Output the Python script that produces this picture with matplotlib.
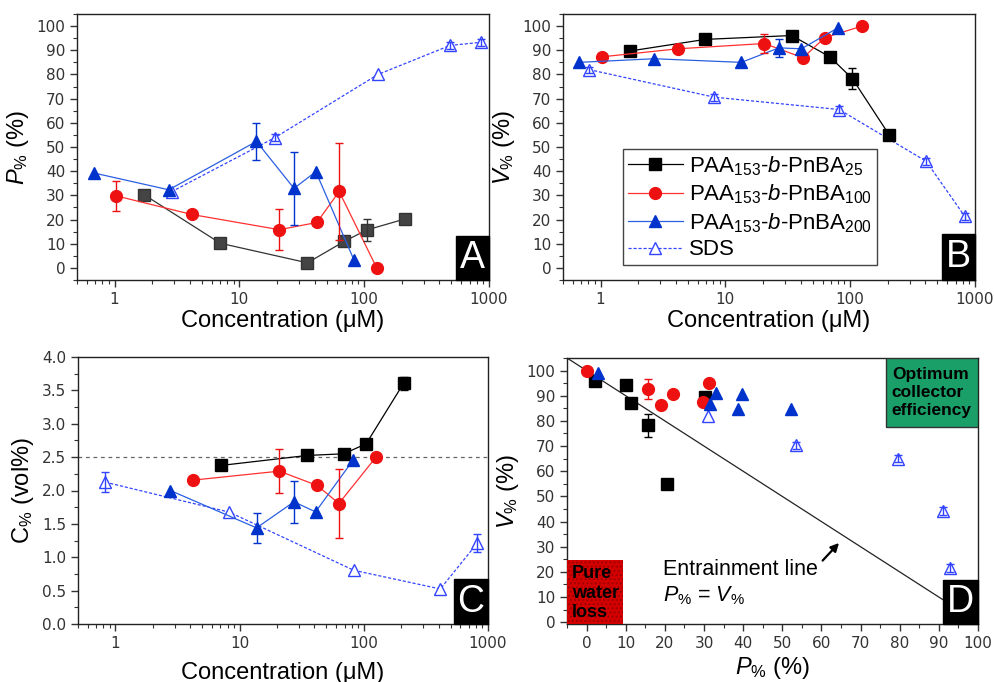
import matplotlib
matplotlib.use('Agg')
import matplotlib.pyplot as plt
from matplotlib.ticker import MultipleLocator, FixedLocator, NullFormatter, LogLocator, FormatStrFormatter
from matplotlib.patches import Rectangle
from matplotlib.lines import Line2D

plt.rcParams['font.family'] = ['Liberation Sans', 'DejaVu Sans']
plt.rcParams['mathtext.fontset'] = 'custom'
plt.rcParams['mathtext.rm'] = 'Liberation Sans'
plt.rcParams['mathtext.it'] = 'Liberation Sans:italic'
plt.rcParams['mathtext.bf'] = 'Liberation Sans:bold'

# ---------------- Data ----------------
# Panel A: P% vs concentration (uM)
a25_x = [1.72, 7.03, 35.1, 69.4, 105, 211]
a25_y = [30.3, 10.2, 2.1, 11.0, 15.7, 20.2]
a25_e = [0, 0, 0, 0, 4.5, 0]
a100_x = [1.03, 4.15, 20.9, 41.8, 63, 126]
a100_y = [29.8, 22.1, 15.8, 18.8, 31.6, 0.0]
a100_e = [6.3, 0, 8.4, 0, 20.0, 0]
a200_x = [0.69, 2.72, 13.7, 27.4, 41, 82.6]
a200_y = [39.2, 32.3, 52.3, 32.9, 39.8, 3.4]
a200_e = [0, 0, 7.7, 15.0, 0, 0]
asds_x = [2.86, 19.3, 129, 488, 867]
asds_y = [31.5, 53.9, 80.0, 92.0, 93.3]
asds_e = [0, 1.5, 0, 1.5, 1.5]

# Panel B: V% vs concentration (uM)
b25_x = [1.72, 6.9, 34, 68.6, 104, 206]
b25_y = [89.7, 94.5, 96.1, 87.3, 78.3, 54.9]
b25_e = [0, 0, 0, 0, 4.5, 0]
b100_x = [1.03, 4.14, 20.5, 41.9, 62.5, 124]
b100_y = [87.3, 90.6, 92.8, 86.9, 95.2, 100.0]
b100_e = [0, 0, 3.8, 0, 0, 0]
b200_x = [0.67, 2.7, 13.4, 26.9, 40.6, 80]
b200_y = [85.0, 86.5, 85.0, 91.0, 90.6, 99.3]
b200_e = [0, 0, 0, 3.6, 0, 0]
bsds_x = [0.81, 8.16, 81.6, 406, 826]
bsds_y = [82.0, 70.6, 65.5, 44.1, 21.4]
bsds_e = [1.2, 1.5, 1.5, 1.5, 1.5]

# Panel C: C% (vol%) vs concentration (uM)
c25_x = [7.06, 35, 69, 104.5, 209]
c25_y = [2.375, 2.525, 2.55, 2.70, 3.605]
c25_e = [0, 0, 0, 0, 0.1]
c100_x = [4.2, 20.9, 42.2, 63, 126]
c100_y = [2.155, 2.29, 2.075, 1.805, 2.505]
c100_e = [0, 0.33, 0, 0.51, 0]
c200_x = [2.77, 13.7, 27.4, 40.9, 82]
c200_y = [2.0, 1.44, 1.83, 1.68, 2.455]
c200_e = [0, 0.23, 0.31, 0, 0]
csds_x = [0.83, 8.28, 83, 413, 823]
csds_y = [2.125, 1.675, 0.805, 0.525, 1.215]
csds_e = [0.15, 0, 0, 0, 0.14]
c_ref_level = 2.5

# Panel D: V% vs P%
d25_x = [2.1, 10.2, 11.3, 15.6, 20.5, 30.3]
d25_y = [95.8, 94.3, 87.2, 78.2, 55.1, 89.4]
d25_e = [0, 0, 0, 4.6, 0, 0]
d100_x = [0.0, 15.8, 18.9, 22.0, 29.8, 31.4]
d100_y = [100.0, 92.7, 86.5, 90.5, 87.5, 95.0]
d100_e = [0, 3.8, 0, 0, 0, 0]
d200_x = [3.0, 31.5, 33.0, 38.6, 39.6, 52.2]
d200_y = [99.0, 86.8, 91.2, 84.6, 90.5, 84.8]
d200_e = [0, 0, 0, 0, 0, 0]
dsds_x = [31.1, 53.5, 79.5, 91.0, 92.9]
dsds_y = [81.8, 70.3, 65.0, 44.2, 21.5]
dsds_e = [0, 1.5, 1.5, 1.5, 1.5]
entrain_x = [-5, 100]
entrain_y = [105, 0]

legend_labels = [r'PAA$_{153}$-$b$-PnBA$_{25}$',
                 r'PAA$_{153}$-$b$-PnBA$_{100}$',
                 r'PAA$_{153}$-$b$-PnBA$_{200}$',
                 'SDS']

# ---------------- Styles ----------------
S25 = dict(marker='s', color='#000000', mfc='#000000', mec='#000000', lw=0.9, ms=8)
S25A = dict(marker='s', color='#333333', mfc='#444444', mec='#333333', lw=0.9, ms=8)
S100 = dict(marker='o', color='#ff3030', mfc='#ee1111', mec='#ee1111', lw=0.9, ms=8.5)
S200 = dict(marker='^', color='#2a5fe0', mfc='#0033cc', mec='#0033cc', lw=0.9, ms=9)
SSDS = dict(marker='^', color='#3344ff', mfc='white', mec='#3344ff', lw=0.9, ms=9,
            ls=(0, (2.5, 1.5)), mew=1.0)

fig = plt.figure(figsize=(9.94, 6.82), dpi=100)
W, H = 994.0, 682.0


def add_ax(l, t, r, b):
    return fig.add_axes([l / W, 1 - b / H, (r - l) / W, (b - t) / H])


def series(ax, x, y, e, st, line=True, ecolor=None, z=3):
    kw = dict(st)
    if not line:
        kw['ls'] = 'none'
    ax.plot(x, y, zorder=z, **kw)
    idx = [i for i, v in enumerate(e) if v > 0]
    if idx:
        ax.errorbar([x[i] for i in idx], [y[i] for i in idx], yerr=[e[i] for i in idx],
                    fmt='none', ecolor=ecolor or st['mec'], elinewidth=1.0,
                    capsize=3, capthick=1.0, zorder=z + 0.5)


def style_ax(ax):
    for s in ax.spines.values():
        s.set_linewidth(1.0)
        s.set_color('#222222')
    ax.tick_params(which='both', direction='out', top=False, right=False,
                   labelsize=11, labelcolor='#333333', color='#333333')
    ax.tick_params(which='major', length=5, width=1)
    ax.tick_params(which='minor', length=3, width=0.8)


def log_x(ax):
    ax.set_xscale('log')
    ax.set_xlim(0.5, 1000)
    ax.xaxis.set_major_locator(FixedLocator([1, 10, 100, 1000]))
    ax.set_xticklabels(['1', '10', '100', '1000'])
    ax.xaxis.set_minor_locator(LogLocator(base=10, subs=range(2, 10)))
    ax.xaxis.set_minor_formatter(NullFormatter())


def fix_tick_font(ax):
    for lab in ax.get_xticklabels() + ax.get_yticklabels():
        lab.set_family('DejaVu Sans')
        lab.set_fontsize(11)


def panel_label(ax, letter, wpx, hpx, axw, axh):
    fw, fh = wpx / axw, hpx / axh
    ax.add_patch(Rectangle((1 - fw, 0), fw, fh, transform=ax.transAxes,
                           facecolor='black', edgecolor='black', zorder=20, clip_on=False))
    ax.text(1 - fw / 2, fh / 2, letter, transform=ax.transAxes, color='white',
            ha='center', va='center', fontsize=27, zorder=21)


# ---------------- Panel A ----------------
axA = add_ax(77, 14, 489, 280)
log_x(axA)
axA.set_ylim(-5, 105)
axA.yaxis.set_major_locator(MultipleLocator(10))
axA.yaxis.set_minor_locator(MultipleLocator(5))
style_ax(axA)
series(axA, asds_x, asds_y, asds_e, SSDS, z=2)
series(axA, a25_x, a25_y, a25_e, S25A)
series(axA, a100_x, a100_y, a100_e, S100)
series(axA, a200_x, a200_y, a200_e, S200)
axA.set_xlabel('Concentration (\u03bcM)', fontsize=17, labelpad=2)
axA.set_ylabel(r'$P_{\%}$ (%)', fontsize=17, labelpad=4)
panel_label(axA, 'A', 33, 44, 412, 266)

# ---------------- Panel B ----------------
axB = add_ax(563, 14, 975, 280)
log_x(axB)
axB.set_ylim(-5, 105)
axB.yaxis.set_major_locator(MultipleLocator(10))
axB.yaxis.set_minor_locator(MultipleLocator(5))
style_ax(axB)
series(axB, bsds_x, bsds_y, bsds_e, SSDS, z=2)
series(axB, b25_x, b25_y, b25_e, S25)
series(axB, b100_x, b100_y, b100_e, S100)
series(axB, b200_x, b200_y, b200_e, S200)
axB.set_xlabel('Concentration (\u03bcM)', fontsize=17, labelpad=2)
axB.set_ylabel(r'$V_{\%}$ (%)', fontsize=17, labelpad=4)
panel_label(axB, 'B', 33, 46, 412, 266)

handles = [Line2D([], [], **S25), Line2D([], [], **S100), Line2D([], [], **S200),
           Line2D([], [], **SSDS)]
leg = axB.legend(handles, legend_labels, loc='lower left', bbox_to_anchor=(0.145, 0.055),
                 fontsize=16, frameon=True, fancybox=False, framealpha=1,
                 edgecolor='#444444', handlelength=2.5, handletextpad=0.25,
                 labelspacing=0.22, borderpad=0.22, borderaxespad=0)
leg.get_frame().set_linewidth(1.0)
leg.set_zorder(30)

# ---------------- Panel C ----------------
axC = add_ax(78, 357, 488, 624)
log_x(axC)
axC.set_ylim(0, 4.0)
axC.yaxis.set_major_locator(MultipleLocator(0.5))
axC.yaxis.set_minor_locator(MultipleLocator(0.25))
axC.yaxis.set_major_formatter(FormatStrFormatter('%.1f'))
style_ax(axC)
axC.axhline(c_ref_level, color='#666666', lw=0.9, ls=(0, (3, 3)), zorder=1)
series(axC, csds_x, csds_y, csds_e, SSDS, z=2)
series(axC, c25_x, c25_y, c25_e, S25)
series(axC, c100_x, c100_y, c100_e, S100)
series(axC, c200_x, c200_y, c200_e, S200)
axC.set_xlabel('Concentration (\u03bcM)', fontsize=17, labelpad=8)
axC.set_ylabel(r'C$_{\%}$ (vol%)', fontsize=17, labelpad=4)
panel_label(axC, 'C', 34, 45, 410, 267)

# ---------------- Panel D ----------------
axD = add_ax(567, 358, 978, 624)
axD.set_xlim(-5, 100)
axD.set_ylim(-0.7, 105)
axD.xaxis.set_major_locator(MultipleLocator(10))
axD.xaxis.set_minor_locator(MultipleLocator(5))
axD.yaxis.set_major_locator(MultipleLocator(10))
axD.yaxis.set_minor_locator(MultipleLocator(5))
style_ax(axD)
axD.plot(entrain_x, entrain_y, color='#222222', lw=0.9, zorder=1)
series(axD, dsds_x, dsds_y, dsds_e, SSDS, line=False, z=2)
series(axD, d25_x, d25_y, d25_e, S25, line=False)
series(axD, d100_x, d100_y, d100_e, S100, line=False)
series(axD, d200_x, d200_y, d200_e, S200, line=False)
axD.annotate('', xy=(64.5, 31.5), xytext=(60.3, 24.5),
             arrowprops=dict(arrowstyle='-|>', color='black', lw=1.6,
                             mutation_scale=12, shrinkA=0, shrinkB=0), zorder=5)
axD.text(19.6, 20.8, 'Entrainment line', fontsize=15.5, va='center', ha='left', zorder=5)
axD.text(19.6, 10.5, r'$P_{\%}$ = $V_{\%}$', fontsize=15.5, va='center', ha='left', zorder=5)
axD.set_xlabel(r'$P_{\%}$ (%)', fontsize=17, labelpad=3)
axD.set_ylabel(r'$V_{\%}$ (%)', fontsize=17, labelpad=4)

# green box
gw, gh = 92 / 411, 69 / 266
axD.add_patch(Rectangle((1 - gw, 1 - gh), gw, gh, transform=axD.transAxes,
                        facecolor='#1a9f68', edgecolor='#333333', lw=1, zorder=15))
axD.text(1 - gw + 0.014, 1 - gh / 2, 'Optimum\ncollector\nefficiency', transform=axD.transAxes,
         fontsize=12.5, fontweight='bold', ha='left', va='center', linespacing=1.22, zorder=16)
# red box
rw, rh = 56 / 411, 64 / 266
axD.add_patch(Rectangle((0, 0), rw, rh, transform=axD.transAxes,
                        facecolor='#d40000', edgecolor='#a00000', hatch='....', lw=0, zorder=15))
axD.text(0.012, rh / 2 - 0.005, 'Pure\nwater\nloss', transform=axD.transAxes,
         fontsize=13, fontweight='bold', ha='left', va='center', linespacing=1.2, zorder=16)
panel_label(axD, 'D', 35, 44, 411, 266)

for ax in (axA, axB, axC, axD):
    fix_tick_font(ax)

fig.savefig('out.png', dpi=100)
